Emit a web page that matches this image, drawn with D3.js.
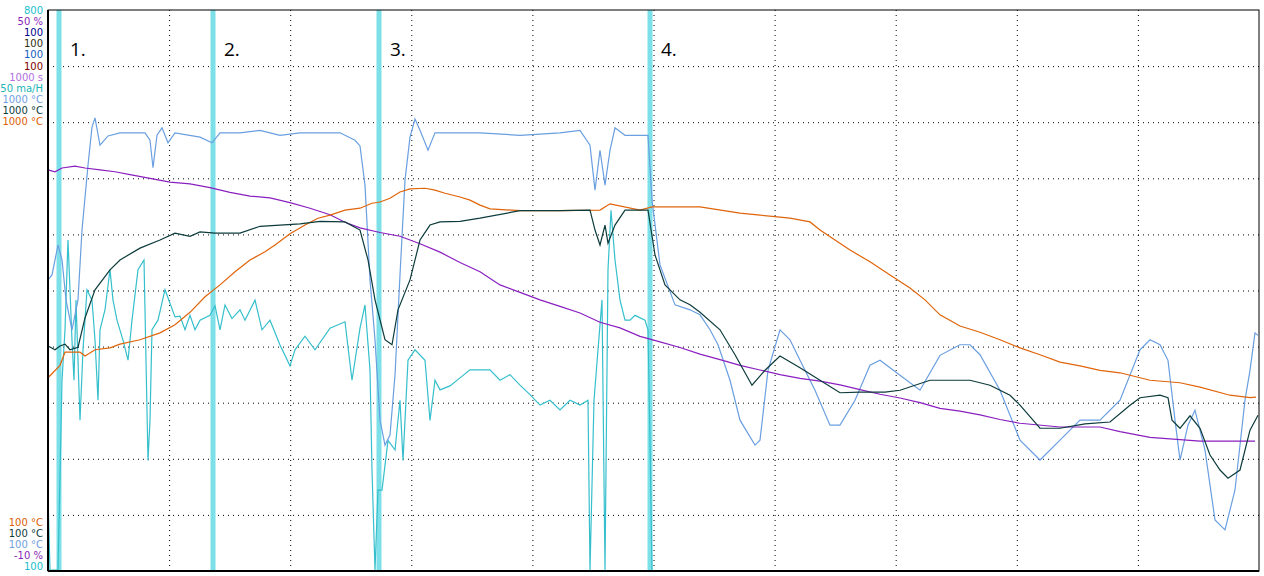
<!DOCTYPE html>
<html><head><meta charset="utf-8">
<script src="https://cdn.jsdelivr.net/npm/d3@7"></script>
<style>
body{margin:0;background:#fff;}
.grid line{stroke:#000;stroke-dasharray:1,4;}
.grid path{display:none;}
</style></head>
<body><div id="chart"></div>
<script>
// time in s, values in °C / % / raw
const orange = [[0,410],[12,430],[17,451],[32,451],[37,445],[47,455],[62,458],[72,464],[92,471],[112,482],[127,495],[142,515],[157,540],[172,559],[187,580],[202,599],[217,612],[227,623],[242,641],[257,655],[270,666],[282,671],[297,679],[312,682],[324,690],[332,692],[342,698],[352,708],[362,713],[377,714],[387,711],[397,706],[412,700],[422,695],[432,687],[442,681],[472,678],[512,678],[552,679],[562,689],[592,679],[604,684],[652,684],[692,674],[712,671],[742,666],[762,660],[772,647],[787,631],[802,615],[822,596],[842,575],[862,554],[877,535],[892,511],[912,493],[932,483],[952,471],[972,458],[992,447],[1012,435],[1032,429],[1052,422],[1072,418],[1102,406],[1132,402],[1152,395],[1182,382],[1202,378],[1208,379]];
const darkGreen = [[0,461],[7,455],[12,461],[17,464],[22,455],[30,459],[37,506],[47,551],[62,583],[72,599],[92,618],[112,631],[127,642],[142,637],[152,644],[167,642],[192,642],[212,653],[252,657],[272,661],[297,660],[312,647],[320,599],[327,535],[337,471],[344,463],[350,519],[362,567],[372,631],[382,655],[392,660],[412,661],[432,666],[472,678],[512,678],[542,679],[547,647],[552,623],[557,655],[560,626],[567,655],[577,679],[600,679],[607,607],[617,559],[632,535],[642,527],[652,515],[672,487],[687,447],[704,398],[717,422],[732,445],[752,426],[772,406],[792,386],[812,387],[837,387],[852,390],[882,406],[922,406],[942,398],[962,382],[972,366],[992,329],[1012,329],[1037,336],[1062,339],[1082,366],[1092,378],[1112,382],[1120,378],[1124,342],[1132,329],[1142,349],[1152,329],[1162,286],[1172,262],[1180,249],[1192,262],[1202,326],[1210,350]];
const lightBlue = [[0,567],[4,575],[10,623],[14,599],[18,535],[24,487],[30,535],[34,647],[40,751],[44,812],[47,827],[52,783],[60,798],[72,803],[97,803],[102,791],[105,747],[109,799],[114,811],[120,787],[127,803],[152,796],[164,787],[172,803],[192,803],[212,807],[232,799],[252,803],[292,803],[307,791],[312,782],[317,719],[322,567],[327,471],[332,342],[337,302],[342,318],[347,414],[352,575],[357,727],[362,796],[367,825],[372,807],[380,775],[387,803],[432,803],[472,799],[512,803],[532,807],[542,783],[547,711],[552,775],[557,719],[562,775],[567,811],[577,799],[600,799],[604,695],[612,591],[627,527],[642,519],[652,511],[662,487],[670,463],[682,406],[692,342],[707,302],[712,310],[720,422],[732,487],[742,471],[752,438],[767,390],[782,334],[792,334],[807,374],[822,430],[832,438],[852,414],[872,390],[892,446],[912,463],[922,463],[932,447],[952,390],[972,310],[992,278],[1012,310],[1032,342],[1052,342],[1072,374],[1092,455],[1102,471],[1112,463],[1120,438],[1127,342],[1132,278],[1140,334],[1147,358],[1157,294],[1167,182],[1177,166],[1187,230],[1197,374],[1202,422],[1207,482],[1210,478]];
const cyan = [[0,195],[2,101],[10,101],[14,338],[17,401],[20,513],[24,388],[26,338],[28,438],[32,288],[35,376],[39,451],[44,438],[47,388],[50,313],[52,401],[57,426],[62,476],[65,438],[69,413],[75,388],[80,363],[84,413],[90,476],[96,488],[100,238],[102,288],[104,401],[110,413],[117,451],[127,417],[132,418],[137,401],[142,419],[147,401],[152,413],[162,419],[167,431],[172,401],[177,432],[184,415],[192,426],[197,413],[207,438],[214,401],[222,413],[232,382],[242,356],[247,376],[257,393],[267,376],[282,403],[297,411],[304,338],[312,403],[317,432],[322,351],[324,226],[327,101],[330,201],[334,201],[340,263],[347,251],[352,313],[355,238],[360,363],[367,376],[377,363],[382,288],[387,338],[392,326],[402,331],[412,341],[422,351],[442,351],[452,338],[462,345],[472,332],[482,320],[492,307],[502,313],[512,301],[522,313],[532,307],[540,313],[542,101],[546,313],[550,376],[554,438],[557,101],[560,476],[563,550],[567,488],[572,438],[577,413],[582,413],[587,419],[597,413],[600,401],[602,263],[604,101]];
const purple = [[0,32.9],[7,32.7],[14,33.1],[27,33.3],[37,33.1],[52,32.9],[67,32.7],[82,32.4],[102,32.0],[122,31.6],[142,31.4],[162,31.0],[182,30.5],[202,30.1],[222,29.9],[242,29.4],[262,28.8],[282,28.1],[297,27.3],[312,26.7],[332,26.2],[352,25.8],[372,25.0],[392,24.1],[412,23.0],[432,22.0],[452,20.6],[472,19.8],[492,19.0],[512,18.3],[532,17.6],[552,16.6],[572,16.0],[592,15.1],[612,14.5],[632,13.9],[652,13.2],[672,12.6],[692,12.0],[712,11.5],[732,11.0],[752,10.6],[772,10.3],[792,9.9],[812,9.4],[832,8.9],[852,8.5],[872,8.0],[892,7.4],[912,7.1],[932,6.7],[952,6.2],[972,5.8],[1012,5.4],[1052,5.4],[1072,4.9],[1102,4.3],[1152,3.9],[1207,3.9]];
const markers = [11, 165, 331, 602];
const markerLabels = ["1.", "2.", "3.", "4."];
const topLabels = [["800","#20bfcf"],["50 %","#8a1fb8"],["100","#000090"],["100","#2e2e10"],["100","#1260c0"],["100","#800000"],["1000 s","#b070e0"],["50 ma/H","#20b4b4"],["1000 °C","#6fa0e0"],["1000 °C","#0d3b3b"],["1000 °C","#e06000"]];
const bottomLabels = [["100 °C","#e06000"],["100 °C","#0d3b3b"],["100 °C","#6fa0e0"],["-10 %","#8a1fb8"],["100","#20bfcf"]];

const margin = {top: 10, right: 5, bottom: 5, left: 48};
const W = 1264, H = 576;
const width = W - margin.left - margin.right, height = H - margin.top - margin.bottom;

const svgRoot = d3.select("#chart").append("svg").attr("width", W).attr("height", H);
const svg = svgRoot.append("g").attr("transform", `translate(${margin.left},${margin.top})`);

const x = d3.scaleLinear().domain([0, 1211]).range([0, width]);
const yT = d3.scaleLinear().domain([100, 1000]).range([height, 0]);
const yC = d3.scaleLinear().domain([100, 800]).range([height, 0]);
const yP = d3.scaleLinear().domain([-10, 50]).range([height, 0]);

svg.append("g").attr("class", "grid")
  .attr("transform", `translate(0,${height})`)
  .call(d3.axisBottom(x).tickValues(d3.range(1, 10).map(i => i * 121.1)).tickSize(-height).tickFormat(""));
svg.append("g").attr("class", "grid")
  .call(d3.axisLeft(yT).tickValues(d3.range(1, 10).map(i => 100 + i * 90)).tickSize(-width).tickFormat(""));

// markers
markers.forEach((m, i) => {
  svg.append("line").attr("x1", x(m)).attr("x2", x(m)).attr("y1", 0).attr("y2", height)
    .attr("stroke", "#7ddfe8").attr("stroke-width", 5);
  svg.append("text").attr("x", x(m) + 11).attr("y", 46).text(markerLabels[i])
    .style("font-family", "Open Sans, sans-serif").style("font-size", "19px").attr("fill", "#000");
});

const series = [
  [cyan, yC, "#35bfcc"],
  [lightBlue, yT, "#6a9fe0"],
  [purple, yP, "#8a1fc0"],
  [orange, yT, "#e0640a"],
  [darkGreen, yT, "#0d3b3b"]
];
series.forEach(([data, ys, color]) => {
  const line = d3.line().x(d => x(d[0])).y(d => ys(d[1]));
  svg.append("path").datum(data).attr("fill", "none").attr("stroke", color)
    .attr("stroke-width", 1.2).attr("d", line);
});

// frame
svg.append("rect").attr("width", width).attr("height", height).attr("fill", "none").attr("stroke", "#000").attr("stroke-width", 1);
svg.append("line").attr("x1", 0).attr("x2", 0).attr("y1", 0).attr("y2", height).attr("stroke", "#000").attr("stroke-width", 2);
svg.append("line").attr("x1", 0).attr("x2", width).attr("y1", height).attr("y2", height).attr("stroke", "#000").attr("stroke-width", 2);

const lab = svgRoot.append("g").style("font-family", "DejaVu Sans, sans-serif").style("font-size", "10px").attr("text-anchor", "end");
topLabels.forEach((d, i) => {
  lab.append("text").attr("x", 43).attr("y", 14 + i * 11.1).attr("fill", d[1]).text(d[0]);
});
bottomLabels.forEach((d, i) => {
  lab.append("text").attr("x", 43).attr("y", 526 + i * 11.1).attr("fill", d[1]).text(d[0]);
});
</script></body></html>
